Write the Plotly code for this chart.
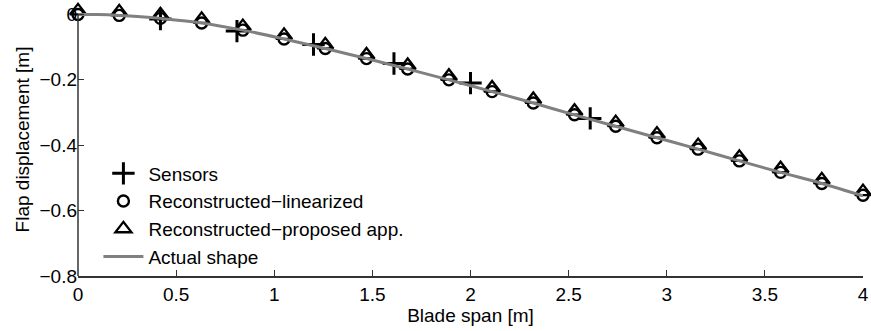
import plotly.graph_objects as go

# Marker positions along the blade
span = [0.0, 0.21, 0.42, 0.63, 0.84, 1.05, 1.26, 1.47, 1.68, 1.89,
        2.11, 2.32, 2.53, 2.74, 2.95, 3.16, 3.37, 3.58, 3.79, 4.0]
recon_linearized = [0.0, -0.003, -0.012, -0.026, -0.048, -0.075, -0.104, -0.135, -0.167, -0.200,
                    -0.236, -0.271, -0.307, -0.342, -0.377, -0.412, -0.448, -0.483, -0.517, -0.553]
recon_proposed = [0.011, 0.008, -0.001, -0.015, -0.037, -0.064, -0.093, -0.124, -0.156, -0.189,
                  -0.225, -0.260, -0.296, -0.331, -0.366, -0.401, -0.437, -0.472, -0.506, -0.542]

sensor_x = [0.42, 0.81, 1.2, 1.61, 2.0, 2.61]
sensor_y = [-0.014, -0.051, -0.092, -0.150, -0.210, -0.318]

actual_x = [0.0, 0.1, 0.21, 0.32, 0.42, 0.63, 0.84, 1.05, 1.26, 1.47, 1.68, 1.89,
            2.11, 2.32, 2.53, 2.74, 2.95, 3.16, 3.37, 3.58, 3.79, 4.0]
actual_y = [0.0, -0.0005, -0.003, -0.007, -0.012, -0.026, -0.048, -0.075, -0.104, -0.135, -0.167, -0.200,
            -0.236, -0.271, -0.307, -0.342, -0.377, -0.412, -0.448, -0.483, -0.517, -0.555]

y_ticks = [-0.8, -0.6, -0.4, -0.2, 0]
y_ticktext = ["\u22120.8", "\u22120.6", "\u22120.4", "\u22120.2", "0"]
x_ticks = [0, 0.5, 1, 1.5, 2, 2.5, 3, 3.5, 4]
x_ticktext = ["0", "0.5", "1", "1.5", "2", "2.5", "3", "3.5", "4"]

FONT = "Liberation Sans, Arial, Helvetica, sans-serif"
FS = 19
AXC = "#333333"

fig = go.Figure()
fig.add_trace(go.Scatter(
    x=sensor_x, y=sensor_y, mode="markers", name="Sensors", cliponaxis=False,
    marker=dict(symbol="cross-thin", size=16, color="black",
                line=dict(width=3, color="black")),
))
fig.add_trace(go.Scatter(
    x=span, y=recon_linearized, mode="markers", name="Reconstructed\u2212linearized",
    cliponaxis=False,
    marker=dict(symbol="circle-open", size=11, color="black",
                line=dict(width=2.4, color="black")),
))
fig.add_trace(go.Scatter(
    x=span, y=recon_proposed, mode="markers", name="Reconstructed\u2212proposed app.",
    cliponaxis=False,
    marker=dict(symbol="triangle-up-open", size=14, color="black",
                line=dict(width=2.3, color="black")),
))
fig.add_trace(go.Scatter(
    x=actual_x, y=actual_y, mode="lines", name="Actual shape", cliponaxis=False,
    line=dict(color="#808080", width=3, shape="spline"),
))

# left axis line only spans the labelled range [-0.8, 0]
fig.add_shape(type="line", xref="paper", yref="y", x0=0, x1=0,
              y0=y_ticks[0], y1=y_ticks[-1], line=dict(color=AXC, width=1.5), layer="above")

fig.update_layout(
    width=871, height=331,
    margin=dict(l=78, r=8, t=2.5, b=55),
    paper_bgcolor="white", plot_bgcolor="white",
    font=dict(family=FONT, size=FS, color="black"),
    showlegend=True,
    legend=dict(x=0.026, y=0.445, xanchor="left", yanchor="top",
                bgcolor="rgba(0,0,0,0)", borderwidth=0, itemwidth=40,
                font=dict(family=FONT, size=FS, color="black"),
                tracegroupgap=0),
    xaxis=dict(range=[0, 4], tickvals=x_ticks, ticktext=x_ticktext,
               ticks="inside", ticklen=6, tickcolor=AXC, tickwidth=1,
               showline=True, linecolor=AXC, linewidth=1.5, showgrid=False, zeroline=False,
               title=dict(text="Blade span [m]", standoff=0, font=dict(size=FS)),
               tickfont=dict(size=FS)),
    yaxis=dict(range=[-0.8, 0.035], tickvals=y_ticks, ticktext=y_ticktext,
               ticks="inside", ticklen=6, tickcolor=AXC, tickwidth=1,
               showline=False, showgrid=False, zeroline=False,
               title=dict(text="Flap displacement [m]", standoff=4, font=dict(size=FS)),
               tickfont=dict(size=FS)),
)

fig.write_html("out.html")
